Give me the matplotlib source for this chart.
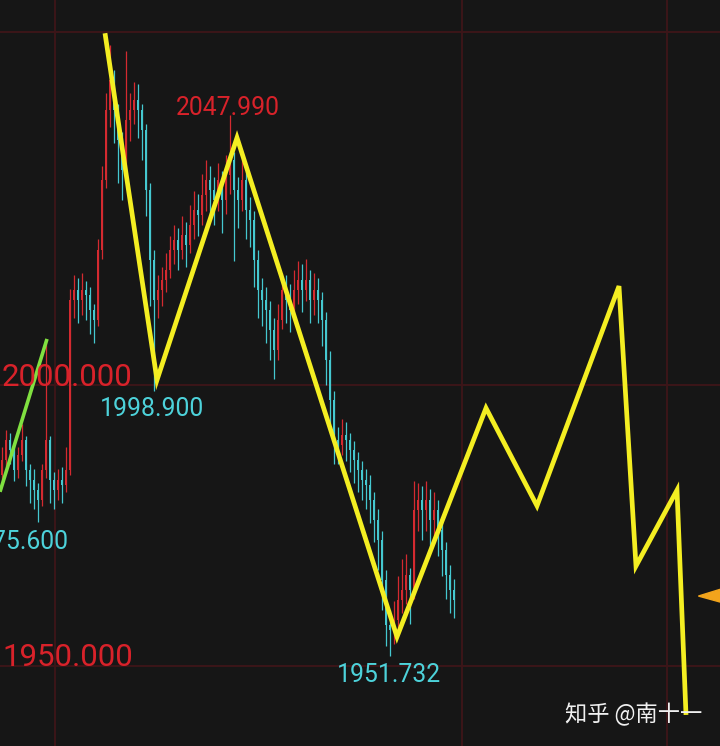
import matplotlib
matplotlib.use("Agg")
import matplotlib.pyplot as plt
from matplotlib.patches import Polygon

# ---------------- data ----------------
first_open = 1984.0
closes = [1986.7, 1990.2, 1988.4, 1984.9, 1987.5, 1990.2, 1984.9, 1983.1, 1981.3, 1979.5,
          1984.9, 1990.2, 1983.1, 1981.3, 1983.1, 1982.2, 1984.9, 2015.1, 2016.9, 2015.1,
          2016.9, 2016.0, 2013.3, 2011.6, 2024.0, 2036.5, 2048.9, 2054.3, 2048.9, 2043.6,
          2038.3, 2047.2, 2048.9, 2050.7, 2048.9, 2045.4, 2034.7, 2022.2, 2015.1, 2016.9,
          2018.7, 2020.5, 2024.0, 2025.8, 2024.0, 2026.7, 2025.0, 2028.5, 2031.1, 2030.3,
          2033.8, 2036.5, 2034.7, 2032.9, 2036.5, 2032.9, 2037.4, 2040.0, 2034.7, 2032.9,
          2036.5, 2031.1, 2029.4, 2022.2, 2016.9, 2015.1, 2013.3, 2009.8, 2006.2, 2011.6,
          2016.9, 2015.1, 2013.3, 2016.9, 2018.7, 2016.9, 2018.7, 2015.1, 2016.9, 2015.1,
          2011.6, 2004.4, 1997.3, 1990.2, 1989.3, 1991.1, 1990.2, 1988.4, 1986.7, 1984.9,
          1983.1, 1982.2, 1979.5, 1976.0, 1972.4, 1965.3, 1957.3, 1956.4, 1958.2, 1961.7,
          1963.5, 1966.2, 1963.5, 1977.8, 1979.5, 1977.8, 1979.5, 1976.0, 1977.8, 1974.2,
          1970.6, 1966.2, 1963.5, 1961.7]
highs = [1989.0, 1992.0, 1991.5, 1989.5, 1989.0, 1993.0, 1991.0, 1986.0, 1985.0, 1982.5,
         1986.0, 2008.0, 1991.0, 1984.5, 1985.0, 1985.5, 1989.0, 2017.0, 2019.5, 2019.0,
         2020.0, 2018.5, 2017.5, 2014.5, 2026.0, 2039.0, 2052.0, 2060.5, 2056.0, 2050.0,
         2045.0, 2059.5, 2052.0, 2054.0, 2053.5, 2050.0, 2046.5, 2036.0, 2024.0, 2019.5,
         2021.0, 2023.5, 2026.5, 2028.5, 2028.0, 2030.0, 2029.0, 2032.0, 2034.5, 2034.0,
         2037.5, 2040.0, 2039.0, 2037.0, 2039.5, 2038.0, 2041.0, 2048.0, 2041.5, 2037.0,
         2040.5, 2038.0, 2033.5, 2031.0, 2024.0, 2019.0, 2017.5, 2015.0, 2012.0, 2014.5,
         2020.0, 2019.5, 2018.0, 2020.5, 2022.0, 2021.5, 2022.5, 2020.5, 2020.0, 2019.0,
         2016.5, 2013.0, 2006.0, 1999.0, 1992.5, 1994.0, 1993.5, 1991.5, 1990.0, 1988.0,
         1986.5, 1985.0, 1984.0, 1981.0, 1978.0, 1974.0, 1967.0, 1960.0, 1961.5, 1966.0,
         1969.0, 1970.0, 1967.5, 1983.0, 1982.5, 1982.0, 1983.0, 1981.5, 1981.0, 1979.5,
         1976.0, 1972.0, 1968.0, 1965.5]
lows = [1982.5, 1985.5, 1986.0, 1983.0, 1983.5, 1986.5, 1982.0, 1979.0, 1978.0, 1975.6,
        1978.5, 1983.5, 1979.0, 1978.0, 1979.5, 1979.0, 1981.0, 1984.0, 2012.0, 2011.0,
        2012.5, 2011.5, 2009.0, 2007.5, 2010.5, 2022.5, 2035.0, 2046.0, 2043.0, 2036.0,
        2033.0, 2036.0, 2043.5, 2046.5, 2044.0, 2040.0, 2030.0, 2014.0, 1998.9, 2012.0,
        2014.0, 2016.5, 2019.0, 2021.5, 2020.5, 2022.5, 2021.0, 2023.5, 2026.0, 2026.5,
        2028.5, 2031.0, 2030.0, 2028.5, 2031.0, 2027.0, 2030.5, 2034.0, 2022.0, 2028.0,
        2031.0, 2026.0, 2024.5, 2017.5, 2012.0, 2010.5, 2007.5, 2004.5, 2001.0, 2004.5,
        2010.0, 2011.0, 2009.5, 2012.0, 2014.5, 2013.0, 2015.0, 2011.0, 2012.5, 2011.0,
        2007.0, 2000.0, 1993.0, 1986.0, 1986.0, 1987.5, 1986.5, 1984.5, 1982.5, 1981.0,
        1979.5, 1978.0, 1975.5, 1972.0, 1967.0, 1960.0, 1953.5, 1951.7, 1954.0, 1956.5,
        1959.5, 1961.0, 1957.5, 1962.0, 1974.0, 1972.5, 1974.0, 1970.5, 1972.0, 1969.5,
        1966.0, 1962.0, 1959.5, 1958.5]

# yellow wave line (bar index, price)
wave_x = [25.75, 38.75, 58.75, 98.75, 121.0, 133.75, 154.25, 158.5, 168.75, 171.0]
wave_y = [2062.6, 2000.9, 2044.0, 1955.2, 1995.9, 1978.5, 2017.6, 1967.8, 1981.3, 1941.3]
# green line
green_x = [-0.5, 11.25]
green_y = [1981.0, 2008.2]

grid_prices = [2062.8, 2000.0, 1950.0]
grid_bars = [13.25, 115.0, 166.25]

price_labels = ["2000.000", "1950.000"]
extreme_labels = ["2047.990", "1998.900", "1975.600", "1951.732"]
watermark = "知乎 @南十一"

# ---------------- style ----------------
BG = "#161616"
UP = "#d42a30"
DOWN = "#45c8d0"
RED_TXT = "#d8222a"
CYAN_TXT = "#4dd2da"

W, H = 720, 746
fig = plt.figure(figsize=(W / 100, H / 100), dpi=100, facecolor=BG)
ax = fig.add_axes([0, 0, 1, 1], facecolor=BG)
ax.set_xlim(-0.5, 179.5)
ax.set_ylim(1935.77, 2068.51)
ax.axis("off")

for p in grid_prices:
    ax.axhline(p, color="#3c1519", lw=1.4, zorder=1)
for b in grid_bars:
    ax.axvline(b, color="#3c1519", lw=1.4, zorder=1)

opens = [first_open] + closes[:-1]
for i, (o, c, h, l) in enumerate(zip(opens, closes, highs, lows)):
    col = UP if c >= o else DOWN
    ax.vlines(i, l, h, color=col, lw=0.9, zorder=2)
    ax.bar(i, abs(c - o) if abs(c - o) > 0.3 else 0.3, bottom=min(o, c), width=0.45,
           color=col, linewidth=0, zorder=2)

ax.plot(green_x, green_y, color="#80e040", lw=2.6, zorder=3, solid_capstyle="butt")
ax.plot(wave_x, wave_y, color="#f4ee22", lw=3.4, zorder=4, solid_joinstyle="miter",
        solid_capstyle="butt")

# orange arrow at right edge
arrow = Polygon([(0.970, 0.201), (1.0, 0.210), (1.0, 0.193)], closed=True,
                transform=fig.transFigure, color="#f2a41c", zorder=5)
fig.patches.append(arrow)

def ftxt(x, y, s, color, size, ha="left", family="Roboto"):
    fig.text(x / W, 1 - y / H, s, color=color, fontsize=size, ha=ha, va="center",
             family=family)

ftxt(2, 377, price_labels[0], RED_TXT, 22.5)
ftxt(2, 658, price_labels[1], RED_TXT, 22.5)
ftxt(176, 108, extreme_labels[0], RED_TXT, 17.8)
ftxt(100, 409, extreme_labels[1], CYAN_TXT, 17.8)
ftxt(69, 542, extreme_labels[2], CYAN_TXT, 17.8, ha="right")
ftxt(337, 675, extreme_labels[3], CYAN_TXT, 17.8)
ftxt(565, 714, watermark, "#f0f0f0", 16, family=["Noto Sans CJK SC", "DejaVu Sans"])

fig.savefig("out.png", dpi=100, facecolor=BG)
